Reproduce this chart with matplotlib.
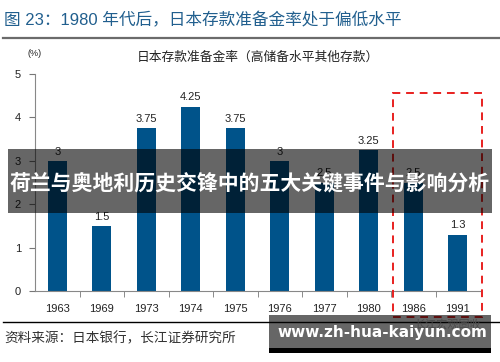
import matplotlib
matplotlib.use("Agg")
import matplotlib.pyplot as plt
from matplotlib.patches import Rectangle
from matplotlib.lines import Line2D

plt.rcParams['font.family'] = ['Liberation Sans', 'Noto Sans CJK SC', 'DejaVu Sans']

years = ['1963', '1969', '1973', '1974', '1975', '1976', '1977', '1980', '1986', '1991']
rates = [3, 1.5, 3.75, 4.25, 3.75, 3, 2.5, 3.25, 2.5, 1.3]
rate_labels = ['3', '1.5', '3.75', '4.25', '3.75', '3', '2.5', '3.25', '2.5', '1.3']
y_ticks = [0, 1, 2, 3, 4, 5]

W, H = 500, 362
fig = plt.figure(figsize=(5, 3.62), dpi=100)

def fx(px):
    return px / W

def fy(py):
    return 1 - py / H

ax = fig.add_axes([fx(35), fy(291), fx(480) - fx(35), fy(74) - fy(291)])
x = list(range(len(years)))
ax.bar(x, rates, width=0.43, color='#00538a', zorder=2)
for xi, v, lab in zip(x, rates, rate_labels):
    ax.annotate(lab, (xi, v), xytext=(0, 3), textcoords='offset points',
                ha='center', va='bottom', fontsize=8, color='#222222')
ax.set_xlim(-0.5, len(years) - 0.5)
ax.set_ylim(0, 5)
ax.set_yticks(y_ticks)
ax.set_yticklabels([str(t) for t in y_ticks], fontsize=8, color='#222222')
ax.set_xticks(x)
ax.set_xticklabels(years, fontsize=8, color='#222222')
ax.set_xticks([i + 0.5 for i in x[:-1]], minor=True)
ax.tick_params(axis='x', which='major', length=0, pad=9)
ax.tick_params(axis='x', which='minor', length=4, color='#777777', direction='out')
ax.tick_params(axis='y', length=4, color='#777777', direction='out', pad=6)
for s in ['top', 'right']:
    ax.spines[s].set_visible(False)
ax.spines['left'].set_color('#888888')
ax.spines['bottom'].set_color('#888888')

# header and footer
fig.text(fx(4), fy(20), '图 23：1980 年代后，日本存款准备金率处于偏低水平',
         fontsize=12, color='#215f8e', ha='left', va='center')
fig.add_artist(Line2D([fx(3), fx(500)], [fy(38), fy(38)], color='#6b6b6b', lw=1.6))
fig.text(fx(258), fy(58), '日本存款准备金率（高储备水平其他存款）', fontsize=9.2,
         color='#222222', ha='center', va='center')
fig.text(fx(35), fy(54), '(%)', fontsize=6.5, color='#222222', ha='center', va='center')
fig.add_artist(Line2D([fx(3), fx(500)], [fy(322), fy(322)], color='black', lw=1))
fig.text(fx(4), fy(338), '资料来源：日本银行，长江证券研究所', fontsize=9.8,
         color='#333333', ha='left', va='center')

# red dashed highlight box
fig.add_artist(Rectangle((fx(393), fy(317)), fx(482) - fx(393), fy(93) - fy(317),
                         transform=fig.transFigure, fill=False, edgecolor='#e8201f',
                         lw=1.4, linestyle=(0, (4, 3)), zorder=4))

# faint watermark
fig.text(fx(448), fy(324), '长江宏观固收', fontsize=8, color='#bbbbbb',
         ha='center', va='center', zorder=4)

# overlay banners
fig.add_artist(Rectangle((fx(8), fy(213)), fx(492) - fx(8), fy(149) - fy(213),
                         transform=fig.transFigure, facecolor='black', alpha=0.6,
                         edgecolor='none', zorder=5))
fig.text(fx(250), fy(183), '荷兰与奥地利历史交锋中的五大关键事件与影响分析',
         fontsize=15, fontweight='bold', color='white', ha='center', va='center',
         family=['Noto Sans CJK SC', 'DejaVu Sans'], zorder=6)
fig.add_artist(Rectangle((fx(269), fy(348)), fx(491) - fx(269), fy(315) - fy(348),
                         transform=fig.transFigure, facecolor='black', alpha=0.6,
                         edgecolor='none', zorder=5))
fig.add_artist(Rectangle((fx(269), fy(353)), fx(491) - fx(269), fy(348) - fy(353),
                         transform=fig.transFigure, facecolor='black',
                         edgecolor='none', zorder=5))
fig.text(fx(382), fy(332), 'www.zh-hua-kaiyun.com', fontsize=11, fontweight='bold',
         color='white', ha='center', va='center', family=['DejaVu Sans'], zorder=6)

fig.savefig('out.png', dpi=100)
